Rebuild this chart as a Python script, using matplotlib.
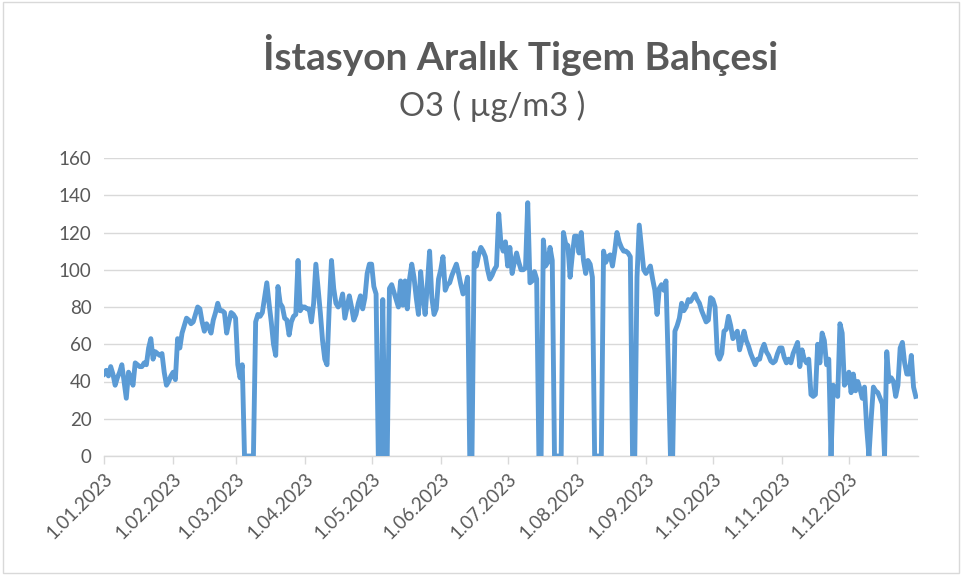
import matplotlib
matplotlib.use("Agg")
import matplotlib.pyplot as plt
from matplotlib.patches import Rectangle

title = "İstasyon Aralık Tigem Bahçesi"
subtitle = "O3 ( µg/m3 )"

jan = [44, 46, 43, 48, 44, 38, 42, 45, 49, 40, 31, 45, 42, 38, 50, 49, 48, 48, 50, 49, 58, 63, 52, 56, 55, 54, 55, 45, 38, 40, 43]
feb = [45, 41, 63, 58, 66, 70, 74, 73, 71, 72, 76, 80, 79, 72, 67, 71, 69, 66, 73, 77, 82, 78, 78, 77, 66, 72, 77, 76]
mar = [74, 49, 42, 49, 0, 0, 0, 0, 0, 72, 76, 75, 77, 85, 93, 82, 72, 60, 54, 91, 82, 80, 74, 73, 65, 72, 75, 76, 105, 78, 80]
apr = [80, 79, 79, 72, 82, 103, 90, 77, 62, 52, 49, 80, 105, 90, 82, 80, 82, 87, 74, 80, 86, 80, 73, 76, 82, 86, 79, 85, 98, 103]
may = [103, 91, 87, 0, 0, 84, 0, 0, 90, 92, 88, 84, 80, 94, 81, 94, 79, 95, 103, 96, 85, 76, 99, 85, 76, 92, 110, 85, 76, 79, 95]
jun = [100, 107, 89, 92, 93, 97, 100, 103, 98, 92, 87, 90, 96, 0, 0, 109, 102, 108, 112, 110, 107, 100, 95, 97, 100, 102, 130, 114, 110, 115]
jul = [102, 112, 98, 104, 109, 104, 100, 100, 101, 136, 93, 94, 99, 95, 0, 0, 116, 102, 104, 112, 105, 0, 0, 0, 0, 120, 114, 113, 96, 108, 118]
aug = [118, 109, 120, 105, 98, 105, 103, 96, 0, 0, 0, 0, 110, 104, 107, 108, 102, 110, 120, 115, 112, 110, 110, 109, 107, 0, 0, 96, 124, 112, 100]
sep = [98, 100, 102, 95, 89, 76, 90, 92, 89, 94, 50, 0, 0, 67, 70, 74, 82, 78, 80, 84, 83, 85, 87, 84, 82, 78, 75, 72, 73, 85]
oct_ = [84, 80, 55, 52, 55, 67, 68, 75, 70, 63, 65, 67, 57, 62, 67, 62, 59, 55, 52, 49, 52, 52, 57, 60, 56, 54, 51, 50, 51, 55, 58]
nov = [58, 53, 50, 52, 50, 55, 58, 61, 48, 57, 52, 50, 52, 33, 32, 33, 60, 50, 66, 62, 49, 52, 0, 38, 35, 32, 71, 66, 38, 40]
dec = [45, 34, 44, 35, 40, 36, 31, 37, 15, 0, 20, 37, 35, 34, 31, 28, 0, 56, 40, 42, 40, 32, 38, 58, 61, 50, 44, 44, 54, 37, 32]

months = [jan, feb, mar, apr, may, jun, jul, aug, sep, oct_, nov, dec]
tick_labels = ["1.01.2023", "1.02.2023", "1.03.2023", "1.04.2023", "1.05.2023", "1.06.2023",
               "1.07.2023", "1.08.2023", "1.09.2023", "1.10.2023", "1.11.2023", "1.12.2023"]
y_ticks = [0, 20, 40, 60, 80, 100, 120, 140, 160]

values = [v for m in months for v in m]
days = list(range(len(values)))
tick_pos = []
acc = 0
for m in months:
    tick_pos.append(acc)
    acc += len(m)

FONT = ["Lato", "DejaVu Sans"]
TXT = "#595959"
GRID = "#d9d9d9"

fig = plt.figure(figsize=(9.62, 5.76), dpi=100)
fig.patches.append(Rectangle((0.003, 0.006), 0.994, 0.99, transform=fig.transFigure,
                             fill=False, edgecolor=GRID, linewidth=1.0))
ax = fig.add_axes([104 / 962, 1 - 456 / 576, (918 - 104) / 962, (456 - 158) / 576])

ax.plot(days, values, color="#5b9bd5", linewidth=3.5, solid_joinstyle="round", zorder=3)

ax.set_xlim(0, 365)
ax.set_ylim(0, 160)
ax.set_yticks(y_ticks)
ax.set_yticklabels([str(t) for t in y_ticks], fontsize=13.5, color=TXT, family=FONT)
ax.set_xticks(tick_pos)
ax.set_xticklabels(tick_labels, rotation=45, ha="right", rotation_mode="anchor",
                   fontsize=13.5, color=TXT, family=FONT)
ax.grid(axis="y", color=GRID, linewidth=1.0)
ax.set_axisbelow(True)
for s in ["top", "right", "left"]:
    ax.spines[s].set_visible(False)
ax.spines["bottom"].set_color(GRID)
ax.spines["bottom"].set_linewidth(1.0)
ax.tick_params(axis="y", length=0, pad=9)
ax.tick_params(axis="x", length=6, color=GRID, width=1.0, pad=4)

fig.text(521 / 962, 1 - 55 / 576, title, ha="center", va="center", fontsize=28,
         fontweight="bold", color=TXT, family=FONT)
fig.text(492 / 962, 1 - 106 / 576, subtitle, ha="center", va="center", fontsize=23.5,
         color=TXT, family=FONT)

fig.savefig("out.png", dpi=100)
